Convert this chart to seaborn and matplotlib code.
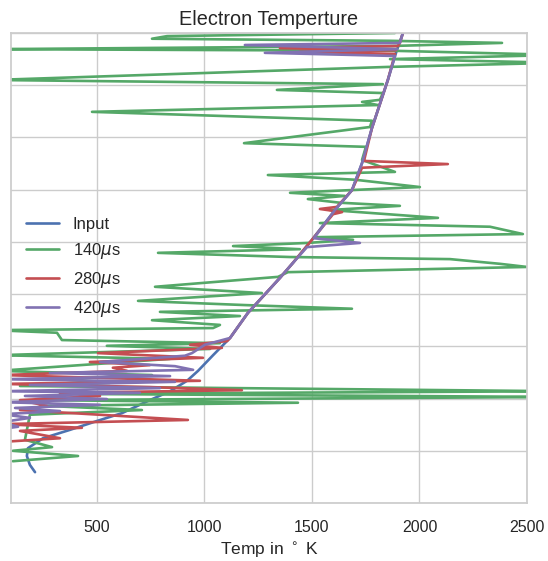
import numpy as np
import pandas as pd
import matplotlib
matplotlib.use("Agg")
import matplotlib.pyplot as plt
import seaborn as sns

# Electron temperature profiles: altitude (km) vs temperature (K)
input_alt = [59, 73, 90, 105, 124, 140, 157, 172, 197, 214, 234, 253, 283, 316,
             364, 431, 460, 504, 561, 599, 651, 718, 810, 862, 900]
input_temp = [212, 188, 174, 179, 249, 374, 500, 616, 746, 840, 919, 970, 1040, 1119,
              1202, 1351, 1412, 1500, 1607, 1686, 1733, 1779, 1853, 1891, 1923]

t140_alt = [900, 894, 889, 885, 881, 875, 869, 866, 858, 850, 843, 835, 810, 802,
            791, 785, 772, 768, 762, 749, 732, 720, 689, 682, 657, 634, 628, 619,
            605, 594, 588, 582, 575, 569, 561, 546, 536, 529, 515, 509, 504, 498,
            492, 486, 479, 471, 467, 458, 452, 442, 433, 414, 402, 387, 379, 372,
            366, 358, 350, 341, 335, 331, 326, 312, 306, 301, 295, 283, 276, 253,
            245, 237, 230, 224, 214, 209, 203, 197, 192, 186, 178, 169, 121, 107,
            100, 90, 80]
t140_temp = [1886, 826, 756, 1863, 2384, 1863, 20, 1872, 2650, 1863, 2650, 1853, 20, 1830,
             1337, 1830, 1816, 1733, 1807, 477, 1779, 1770, 1184, 1751, 1733, 1886, 1295, 1700,
             2002, 1398, 1653, 1481, 1630, 1909, 1584, 2086, 1537, 2328, 2481, 1514, 1691, 1481,
             1133, 1444, 784, 1398, 2142, 2374, 2500, 1388, 1342, 770, 1267, 691, 1188, 1686,
             793, 1165, 756, 1072, 1040, 20, 314, 337, 1072, 546, 1026, 40, 840, 40,
             756, 328, 560, 142, 2650, 328, 2650, 235, 1435, 258, 709, 188, 165, 291,
             109, 412, 109]

t280_alt = [900, 881, 875, 871, 867, 864, 860, 810, 718, 655, 649, 642, 599, 567,
            563, 557, 553, 504, 460, 431, 364, 316, 310, 303, 297, 287, 278, 270,
            264, 259, 253, 245, 234, 228, 222, 216, 211, 205, 197, 186, 178, 159,
            151, 144, 138, 124, 117]
t280_temp = [1923, 1909, 1900, 1351, 1891, 1444, 1886, 1853, 1779, 1742, 2132, 1733, 1686, 1616,
             1537, 1640, 1598, 1500, 1412, 1351, 1202, 1119, 1105, 933, 1081, 505, 993, 467,
             746, 574, 640, 60, 979, 60, 746, 1174, 328, 514, 142, 267, 142, 923,
             60, 430, 142, 328, 60]

t420_alt = [900, 881, 877, 869, 862, 856, 810, 718, 651, 599, 561, 507, 498, 490,
            460, 431, 364, 316, 303, 287, 282, 270, 262, 255, 249, 243, 237, 232,
            226, 220, 214, 211, 205, 199, 193, 188, 182, 176, 170, 163, 155, 146, 142]
t420_temp = [1923, 1909, 1188, 1895, 1281, 1886, 1853, 1779, 1733, 1686, 1607, 1509, 1723, 1477,
             1412, 1351, 1202, 1119, 1002, 942, 909, 514, 863, 947, 281, 840, 60, 863,
             188, 793, 60, 700, 165, 546, 60, 514, 119, 328, 60, 188, 60, 133, 60]

labels = ["Input", r"140$\mu$s", r"280$\mu$s", r"420$\mu$s"]
alts = [input_alt, t140_alt, t280_alt, t420_alt]
temps = [input_temp, t140_temp, t280_temp, t420_temp]

frames = []
for lab, a, t in zip(labels, alts, temps):
    frames.append(pd.DataFrame({"alt": a, "temp": t, "series": lab}))
df = pd.concat(frames, ignore_index=True)

sns.set_theme(style="whitegrid")
plt.rcParams["font.family"] = ["Liberation Sans", "DejaVu Sans"]

palette = ["#4C72B0", "#55A868", "#C44E52", "#8172B2"]

fig = plt.figure(figsize=(5.48, 5.61), dpi=100)
ax = fig.add_axes([0.020, 0.1034, 0.9416, 0.8378])

sns.lineplot(data=df, x="temp", y="alt", hue="series", hue_order=labels,
             palette=palette, sort=False, estimator=None, units="series",
             linewidth=1.9, ax=ax, legend=True)

ax.set_xlim(100, 2500)
ax.set_ylim(0, 900)
ax.set_xticks([500, 1000, 1500, 2000, 2500])
ax.set_yticks(np.arange(0, 901, 100))
ax.set_yticklabels([])
ax.tick_params(axis="x", labelsize=11.5, pad=6)
ax.set_ylabel("")
ax.set_xlabel(r"Temp in $^\circ$ K", fontsize=12.5)
ax.set_title("Electron Temperture", fontsize=14.3, pad=6)

handles, labs = ax.get_legend_handles_labels()
ax.legend(handles, labs, loc="center left", fontsize=12, frameon=False,
          labelspacing=0.55)

fig.savefig("out.png", dpi=100)
